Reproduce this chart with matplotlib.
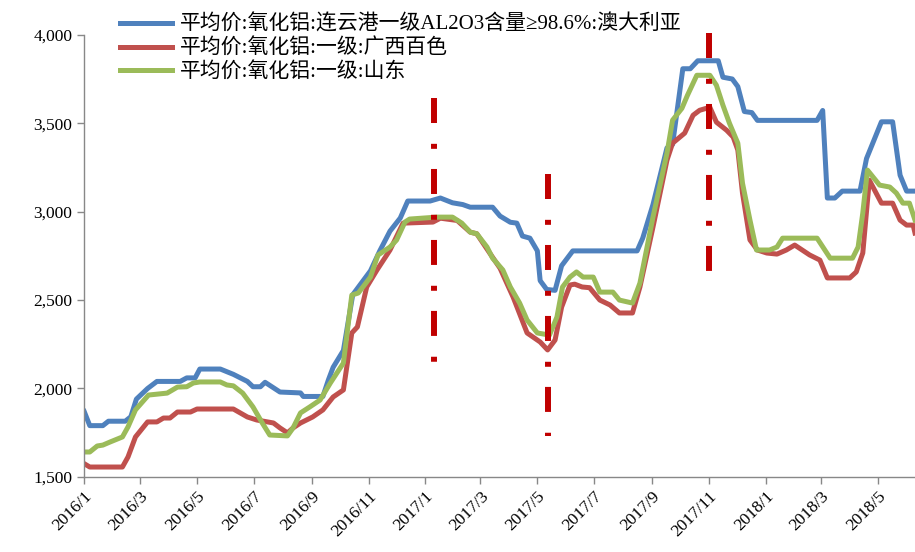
import matplotlib as mpl
mpl.use("Agg")
import matplotlib.pyplot as plt
import matplotlib.dates as mdates
import matplotlib.ticker as mticker
import pandas as pd

# x values are days since 2016-01-01
base = pd.Timestamp("2016-01-01")

blue_days = [0, 6, 20, 26, 44, 50, 56, 68, 78, 103, 110, 119, 124, 146, 160, 175, 181, 189, 194, 210,
             232, 235, 256, 262, 267, 278, 288, 296, 307, 317, 328, 339, 347, 371, 382, 395, 406, 414,
             438, 446, 457, 464, 470, 478, 486, 489, 496, 505, 512, 524, 593, 599, 610, 625, 631, 642,
             650, 658, 680, 685, 695, 701, 708, 716, 722, 786, 792, 797, 805, 813, 832, 839, 855, 867,
             875, 882, 891]
blue_vals = [1870, 1790, 1790, 1815, 1815, 1840, 1940, 2000, 2040, 2040, 2060, 2060, 2110, 2110, 2080,
             2040, 2010, 2010, 2035, 1980, 1975, 1955, 1955, 2050, 2120, 2215, 2530, 2587, 2665, 2778,
             2890, 2964, 3060, 3060, 3077, 3050, 3040, 3025, 3025, 2975, 2940, 2935, 2862, 2850, 2778,
             2610, 2560, 2555, 2694, 2778, 2778, 2850, 3040, 3360, 3380, 3808, 3808, 3853, 3853, 3760,
             3750, 3707, 3566, 3560, 3516, 3516, 3572, 3077, 3077, 3116, 3116, 3300, 3508, 3508, 3206,
             3116, 3116]

red_days = [0, 6, 41, 47, 55, 68, 78, 85, 92, 100, 114, 121, 160, 175, 185, 203, 210, 218, 224, 232,
            245, 256, 267, 278, 287, 293, 303, 314, 328, 342, 374, 382, 400, 414, 421, 435, 446, 460,
            475, 489, 497, 505, 512, 521, 526, 534, 542, 553, 564, 574, 588, 596, 610, 625, 631, 644,
            653, 660, 671, 678, 689, 696, 701, 706, 714, 722, 732, 743, 753, 762, 778, 789, 797, 821,
            828, 835, 842, 855, 867, 875, 882, 889, 891]
red_vals = [1575, 1556, 1556, 1613, 1726, 1811, 1811, 1833, 1833, 1867, 1867, 1884, 1884, 1839, 1822,
            1805, 1777, 1749, 1777, 1805, 1839, 1879, 1952, 1992, 2314, 2348, 2574, 2670, 2783, 2935,
            2941, 2963, 2950, 2884, 2875, 2765, 2680, 2517, 2314, 2263, 2218, 2274, 2460, 2585, 2590,
            2574, 2570, 2500, 2472, 2427, 2427, 2574, 2913, 3291, 3387, 3444, 3545, 3573, 3590, 3506,
            3460, 3422, 3348, 3105, 2840, 2783, 2766, 2760, 2783, 2811, 2755, 2726, 2625, 2625, 2659,
            2766, 3178, 3048, 3048, 2952, 2924, 2924, 2879]

green_days = [0, 6, 14, 20, 28, 41, 47, 55, 69, 89, 100, 110, 117, 124, 146, 153, 160, 170, 181, 191,
              199, 218, 224, 232, 242, 253, 264, 278, 287, 294, 307, 315, 328, 335, 344, 349, 378, 395,
              405, 414, 421, 432, 438, 449, 457, 467, 475, 486, 499, 507, 513, 521, 528, 535, 546, 553,
              567, 574, 588, 596, 610, 625, 631, 641, 647, 657, 671, 678, 685, 692, 701, 706, 714, 721,
              735, 743, 749, 786, 800, 824, 830, 835, 840, 853, 864, 871, 878, 885, 891]
green_vals = [1641, 1641, 1675, 1680, 1698, 1726, 1783, 1879, 1963, 1974, 2008, 2010, 2031, 2037, 2037,
              2020, 2015, 1974, 1896, 1805, 1737, 1732, 1777, 1862, 1896, 1935, 2031, 2144, 2528, 2540,
              2630, 2754, 2800, 2839, 2941, 2958, 2969, 2969, 2935, 2884, 2875, 2800, 2737, 2670, 2574,
              2483, 2387, 2314, 2302, 2404, 2574, 2630, 2659, 2630, 2630, 2545, 2545, 2500, 2483, 2596,
              2969, 3330, 3517, 3584, 3658, 3771, 3771, 3715, 3602, 3500, 3387, 3161, 2952, 2783, 2783,
              2800, 2850, 2850, 2737, 2737, 2800, 2992, 3235, 3150, 3139, 3105, 3048, 3048, 2952]

labels = ["平均价:氧化铝:连云港一级AL2O3含量≥98.6%:澳大利亚",
          "平均价:氧化铝:一级:广西百色",
          "平均价:氧化铝:一级:山东"]
colors = ["#4F81BD", "#C0504D", "#9BBB59"]

# marker lines (dash-dot verticals)
mark_dates = ["2017-01-10", "2017-05-12", "2017-11-01"]
mark_lo = [2140, 1730, 2660]
mark_hi = [3640, 3210, 4010]


def to_dates(days):
    return base + pd.to_timedelta(days, unit="D")


mpl.rcParams["lines.scale_dashes"] = False

fig = plt.figure(figsize=(9.15, 5.52), dpi=100)
ax = fig.add_axes([0.092, 0.136, 0.908, 0.801])

series = [(blue_days, blue_vals), (red_days, red_vals), (green_days, green_vals)]
for (d, v), lab, c in zip(series, labels, colors):
    ax.plot(to_dates(d), v, color=c, lw=3.6, label=lab, solid_joinstyle="round", zorder=2)

for md, lo, hi in zip(mark_dates, mark_lo, mark_hi):
    ax.plot([pd.Timestamp(md)] * 2, [hi, lo], color="#C00000", lw=4.3,
            linestyle=(0, (18, 15, 3.6, 14.5)), solid_capstyle="butt",
            dash_capstyle="butt", zorder=3, clip_on=False)

ax.set_ylim(1500, 4000)
ax.set_xlim(base, pd.Timestamp("2018-06-10"))
ax.yaxis.set_major_locator(mticker.MultipleLocator(500))
ax.yaxis.set_major_formatter(mticker.FuncFormatter(lambda v, p: f"{int(v):,}"))
ax.xaxis.set_major_locator(mdates.MonthLocator(bymonth=[1, 3, 5, 7, 9, 11]))
ax.xaxis.set_major_formatter(mticker.FuncFormatter(
    lambda v, p: f"{mdates.num2date(v).year}/{mdates.num2date(v).month}"))

for s in ["top", "right"]:
    ax.spines[s].set_visible(False)
for s in ["left", "bottom"]:
    ax.spines[s].set_color("#888888")
    ax.spines[s].set_linewidth(1.0)

ax.tick_params(axis="both", direction="out", length=5, color="#888888", width=1.0)
for t in ax.get_yticklabels():
    t.set_family("Liberation Serif")
    t.set_fontsize(12.5)
for t in ax.get_xticklabels():
    t.set_family("Liberation Serif")
    t.set_fontsize(12.5)
    t.set_rotation(45)
    t.set_ha("right")
    t.set_va("top")
    t.set_rotation_mode("anchor")

leg = ax.legend(loc="upper left", bbox_to_anchor=(0.131, 0.973), bbox_transform=fig.transFigure,
                frameon=False, handlelength=2.5, handletextpad=0.38, labelspacing=0.18,
                borderaxespad=0, borderpad=0,
                prop={"family": ["Liberation Serif", "Noto Sans CJK SC"], "size": 15})
leg.set_zorder(5)

fig.savefig("out.png", dpi=100)
